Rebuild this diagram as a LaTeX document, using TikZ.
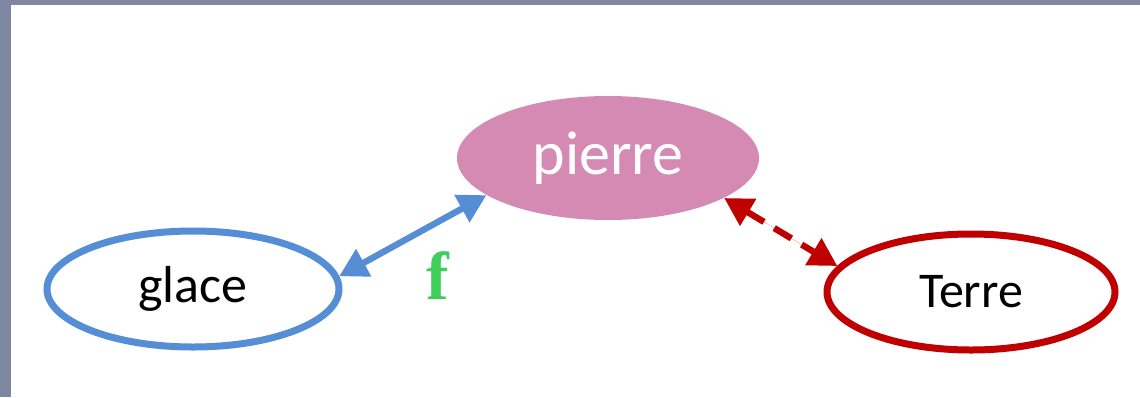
\documentclass[tikz,border=0pt]{standalone}
\usepackage{fontspec}
\newfontfamily\calibri{Carlito}
\newfontfamily\timesbold{Liberation Serif}[UprightFont=*-Bold]
\usetikzlibrary{arrows.meta,shapes.geometric}
\definecolor{frame}{HTML}{7F88A3}
\definecolor{iceblue}{HTML}{558ED5}
\definecolor{stonepink}{HTML}{D58AB4}
\definecolor{earthred}{HTML}{C00000}
\definecolor{forcegreen}{HTML}{3ECF5A}
\begin{document}
\begin{tikzpicture}[x=0.5pt,y=-0.5pt,
  bubble/.style={ellipse,inner sep=0pt,font=\calibri},
  link/.style={line width=3.2pt,{Triangle[length=14pt,width=15pt]}-{Triangle[length=14pt,width=15pt]}}]
  % slide frame and white panel
  \fill[frame] (0,0) rectangle (1140,397);
  \fill[white] (11,5) rectangle (1140,397);
  \useasboundingbox (0,0) rectangle (1140,397);
  % the three bodies
  \node[bubble,draw=iceblue,line width=3.5pt,minimum width=146pt,minimum height=58pt,
        font=\calibri\fontsize{26}{30}\selectfont] (glace) at (193,289) {glace};
  \node[bubble,fill=stonepink,text=white,minimum width=151pt,minimum height=62pt,
        font=\calibri\fontsize{31}{36}\selectfont] (pierre) at (608,158) {pierre};
  \node[bubble,draw=earthred,line width=3.5pt,minimum width=144pt,minimum height=58pt,
        font=\calibri\fontsize{25}{30}\selectfont] (terre) at (971,292) {Terre};
  % interactions
  \draw[link,draw=iceblue,fill=iceblue] (glace.5) -- (pierre.197);
  \draw[link,draw=earthred,fill=earthred,dash pattern=on 10pt off 6pt] (pierre.-19) -- (terre.169);
  \node[text=forcegreen,font=\timesbold\fontsize{34}{40}\selectfont] (f) at (438,276) {f};
\end{tikzpicture}
\end{document}
